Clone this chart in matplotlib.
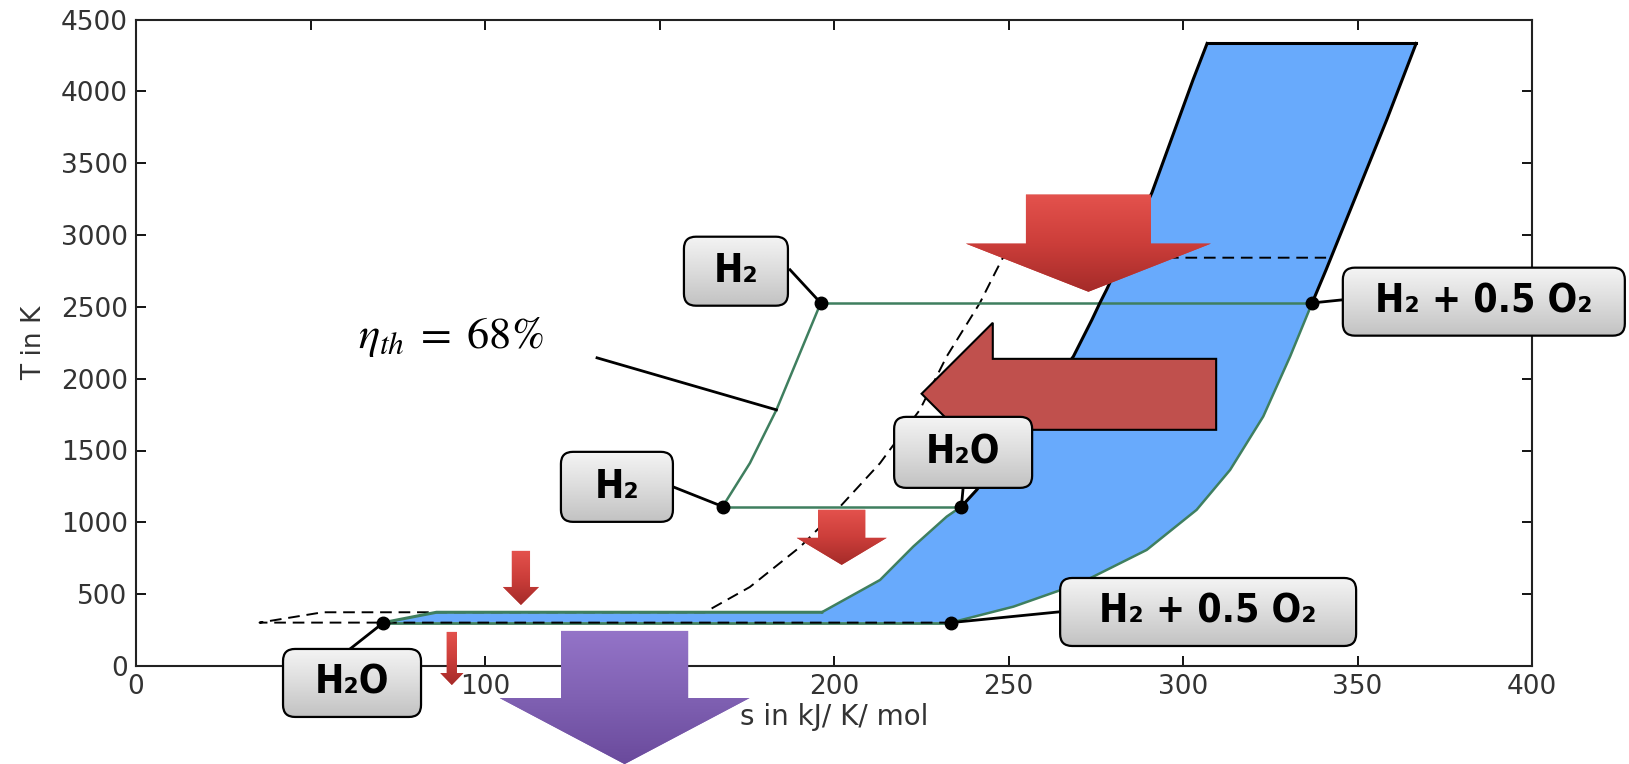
import numpy as np
import matplotlib
matplotlib.use("Agg")
import matplotlib.pyplot as plt
from matplotlib.patches import FancyBboxPatch, Polygon, BoxStyle
from matplotlib.image import BboxImage
from matplotlib.transforms import IdentityTransform, ScaledTranslation, TransformedBbox
from matplotlib.colors import LinearSegmentedColormap

plt.rcParams['mathtext.fontset'] = 'stix'

# ---- s in kJ/K/mol, T in K ----
T_low = 302          # bottom isotherm
T_boil = 374         # water boiling line
T_mid = 1110         # lower H2 isotherm
T_high = 2527        # upper H2 isotherm
T_top = 4333         # top of the band

# right edge of band (H2 + 0.5 O2), green part then black part
right_s = [233.5, 251.4, 270.5, 289.6, 303.9, 313.5, 323.0, 330.7, 337.0]
right_T = [302, 413, 576, 808, 1087, 1365, 1737, 2155, 2527]
right_up_s = [337.0, 341.0, 358.4, 366.8]
right_up_T = [2527, 2758, 3803, 4333]

# left edge of band, black upper part (top -> H2O point)
left_up_s = [306.9, 302.9, 291.1, 278.1, 276.2, 273.9, 268.6, 240.9, 236.5]
left_up_T = [4333, 4082, 3295, 2619, 2528, 2410, 2155, 1226, 1110]
# left edge, green lower part (H2O point -> boiling corner)
left_lo_s = [236.5, 232.3, 222.7, 213.2, 196.5]
left_lo_T = [1110, 1040, 831, 599, 374]
# liquid water start
liq_s = [70.9, 86.1]
liq_T = [302, 374]

# H2 heating line (inner cycle)
h2_s = [168.1, 175.9, 183.5, 196.2]
h2_T = [1110, 1412, 1783, 2527]

# dashed reference curve
dash_s = [233.5, 35.4, 53.5, 163.0, 175.9, 190.3, 200.9, 213.2, 216.0, 224.6,
          232.3, 241.8, 246.6, 248.4, 341.0]
dash_T = [302, 302, 374, 374, 550, 829, 1087, 1412, 1505, 1783,
          2155, 2527, 2758, 2842, 2842]

# state points and their labels
dot_s = [70.9, 233.5, 168.1, 236.5, 196.2, 337.0]
dot_T = [302, 302, 1110, 1110, 2527, 2527]
dot_labels = ['H₂O', 'H₂ + 0.5 O₂', 'H₂', 'H₂O', 'H₂', 'H₂ + 0.5 O₂']
# label box centres and where their leader lines start
box_s = [61.9, 307.2, 137.8, 237.0, 171.9, 386.2]
box_T = [-118, 376, 1247, 1487, 2748, 2536]
lead_s = [61.3, 264.2, 153.9, 237.0, 187.4, 345.8]
lead_T = [118, 376, 1247, 1240, 2758, 2549]

x_ticks = np.arange(0, 401, 50)
x_ticklabels = ['0', '', '100', '', '200', '250', '300', '350', '400']  # 50 / 150 sit under the boxes
eta_text = r'$\eta_{th}\;=\;68\%$'

# ---- figure ----
fig = plt.figure(figsize=(16.29, 7.64), dpi=100)
ax = fig.add_axes([136 / 1629, 98 / 764, 1396 / 1629, 646.5 / 764])
ax.set_xlim(0, 400)
ax.set_ylim(0, 4500)
ax.set_xticks(x_ticks)
ax.set_xticklabels(x_ticklabels)
ax.set_yticks(np.arange(0, 4501, 500))
ax.tick_params(direction='in', length=7, width=1.3, top=True, right=True,
               labelsize=19, labelcolor='#333333', pad=6)
for sp in ax.spines.values():
    sp.set_linewidth(1.5)
    sp.set_color('#222222')
ax.set_xlabel('s in kJ/ K/ mol', fontsize=20, color='#333333', labelpad=2)
ax.set_ylabel('T in K', fontsize=19, color='#333333', labelpad=10)

blue = '#68aafc'
green = '#3f7f5f'

band_s = np.concatenate([[liq_s[0]], right_s, right_up_s[1:], left_up_s, left_lo_s[1:], liq_s[::-1]])
band_T = np.concatenate([[T_low], right_T, right_up_T[1:], left_up_T, left_lo_T[1:], liq_T[::-1]])
ax.fill(band_s, band_T, color=blue, lw=0, zorder=1)

# green lines
ax.plot([liq_s[0], right_s[0]], [T_low, T_low], color=green, lw=2, zorder=2)
ax.plot(right_s, right_T, color=green, lw=1.8, zorder=3)
ax.plot(left_lo_s, left_lo_T, color=green, lw=1.8, zorder=3)
ax.plot(liq_s + [left_lo_s[-1]], liq_T + [T_boil], color=green, lw=2.2, zorder=3)
ax.plot(h2_s, h2_T, color=green, lw=1.8, zorder=3)
ax.plot([h2_s[-1], right_s[-1]], [T_high, T_high], color=green, lw=1.8, zorder=3)
ax.plot([h2_s[0], left_lo_s[0]], [T_mid, T_mid], color=green, lw=1.8, zorder=3)

# black outline of the upper band
ax.plot(right_up_s, right_up_T, color='black', lw=2.2, zorder=3)
ax.plot(left_up_s, left_up_T, color='black', lw=2.2, zorder=3)
ax.plot([left_up_s[0], right_up_s[-1]], [T_top, T_top], color='black', lw=2.2, zorder=3)

ax.plot(dash_s, dash_T, color='black', lw=1.4, ls=(0, (6, 3.5)), zorder=2.5)

# leader lines + dots
for ls_, lt_, ds, dt in zip(lead_s, lead_T, dot_s, dot_T):
    ax.plot([ls_, ds], [lt_, dt], color='black', lw=2, zorder=5, clip_on=False)
ax.plot(dot_s, dot_T, 'o', color='black', ms=9, zorder=6, clip_on=False)

# efficiency label with pointer
ax.plot([132.1, 183.5], [2145, 1783], color='black', lw=2, zorder=5)
ax.text(90.3, 2290, eta_text, fontsize=32, ha='center', va='center', zorder=6)


def gradient(patch, colors, z):
    cmap = LinearSegmentedColormap.from_list('g', colors)
    bb = TransformedBbox(patch.get_path().get_extents(), patch.get_transform())
    img = BboxImage(bb, cmap=cmap, origin='upper', interpolation='bilinear', zorder=z)
    img.set_data(np.linspace(0, 1, 256).reshape(-1, 1))
    img.set_clip_path(patch)
    fig.add_artist(img)


def down_arrow(cs, top, head, tip, sh, hh, colors, z):
    pts = [(cs - sh, top), (cs + sh, top), (cs + sh, head), (cs + hh, head),
           (cs, tip), (cs - hh, head), (cs - sh, head)]
    p = Polygon(pts, closed=True, transform=ax.transData, fc=colors[1], ec='none', zorder=z)
    fig.add_artist(p)
    gradient(p, colors, z + 0.1)


reds = ['#e4524d', '#cc3e3a', '#a52b29']
purples = ['#9474c8', '#8061b3', '#6a4a9c']
down_arrow(272.9, 3281, 2940, 2605, 17.9, 35.1, reds, 10)
down_arrow(202.2, 1087, 892, 704, 6.75, 12.9, reds, 10)
down_arrow(110.3, 801, 550, 425, 2.6, 5.15, reds, 10)
down_arrow(90.5, 237, -49, -132, 1.45, 3.3, reds, 10)
down_arrow(140.0, 244, -223, -683, 18.2, 35.8, purples, 12)

# big left arrow
left_pts = [(225.1, 1895), (245.5, 2389), (245.5, 2138), (309.5, 2138),
            (309.5, 1644), (245.5, 1644), (245.5, 1400)]
fig.add_artist(Polygon(left_pts, closed=True, transform=ax.transData, fc='#c0504d',
                       ec='black', lw=1.5, zorder=10))

# label boxes
box_w = [138, 296, 112, 138, 104, 282]
box_h = [68, 68, 70, 71, 69, 68]
for lab, bs, bt, w, h in zip(dot_labels, box_s, box_T, box_w, box_h):
    tr = IdentityTransform() + ScaledTranslation(bs, bt, ax.transData)
    style = BoxStyle.Round(pad=0, rounding_size=12)
    bg = FancyBboxPatch((-w / 2, -h / 2), w, h, boxstyle=style, transform=tr,
                        fc='#dddddd', ec='none', zorder=14)
    fig.add_artist(bg)
    gradient(bg, ['#f4f4f4', '#dcdcdc', '#c2c2c2'], 14.1)
    fig.add_artist(FancyBboxPatch((-w / 2, -h / 2), w, h, boxstyle=style, transform=tr,
                                  fill=False, ec='black', lw=1.6, zorder=14.2))
    fig.text(0, 0, lab, transform=tr, ha='center', va='center', fontsize=28,
             fontweight='bold', fontstretch='condensed', family=['DejaVu Sans'],
             zorder=14.3)

fig.savefig('out.png', dpi=100)
